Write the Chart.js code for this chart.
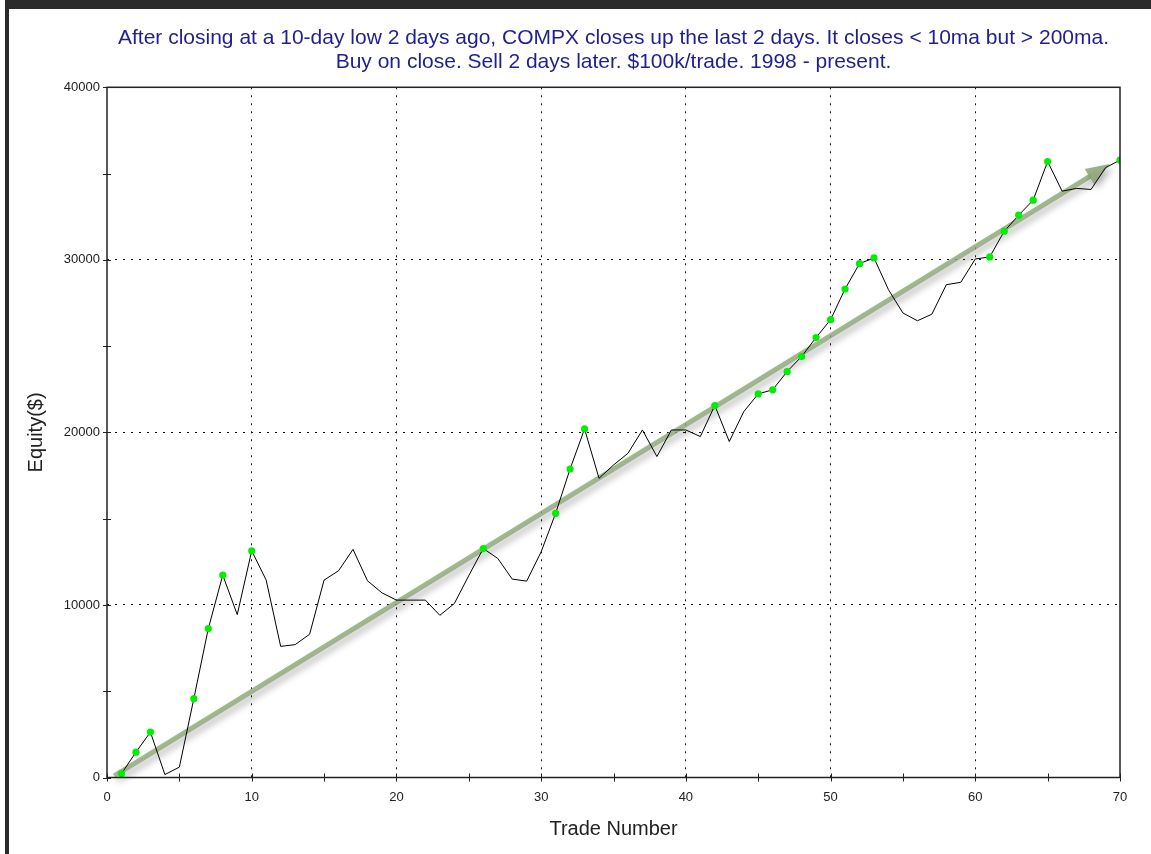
<!DOCTYPE html>
<html>
<head>
<meta charset="utf-8">
<title>COMPX equity curve</title>
<script src="https://cdn.jsdelivr.net/npm/chart.js@4.4.1/dist/chart.umd.min.js"></script>
<style>
    html, body { margin: 0; padding: 0; background: #fff; }
    #wrap { position: relative; width: 1151px; height: 854px; overflow: hidden; }
    #chart { position: absolute; left: 0; top: 0; }
    .bar { position: absolute; background: #2b2b2b; }
</style>
</head>
<body>
<div id="wrap">
    <canvas id="chart" width="1151" height="854"></canvas>
    <div class="bar" style="left:5px; top:0; width:1146px; height:9px;"></div>
    <div class="bar" style="left:5px; top:0; width:4px; height:854px;"></div>
</div>
<script>
// Equity after each trade (trade 1..70)
const equity = [
    220, 1470, 2630, 170, 600, 4570, 8630, 11730, 9440, 13140,
    11440, 7600, 7700, 8300, 11440, 11980, 13220, 11400, 10700, 10280,
    10280, 10280, 9400, 10080, 11700, 13270, 12700, 11500, 11380, 13080,
    15310, 17880, 20200, 17340, 18110, 18790, 20140, 18600, 20140, 20140,
    19760, 21560, 19470, 21200, 22230, 22470, 23530, 24400, 25500, 26530,
    28310, 29780, 30110, 28270, 26920, 26470, 26850, 28560, 28700, 30050,
    30170, 31660, 32590, 33460, 35700, 33980, 34140, 34080, 35340, 35780
];
const trades = equity.map((v, i) => i + 1);

// trades that set a new equity high (green dots)
const highTrades = [1, 2, 3, 6, 7, 8, 10, 26, 31, 32, 33, 42, 45, 46, 47, 48, 49, 50, 51, 52, 53, 61, 62, 63, 64, 65, 70];

// trend arrow, start and tip in data units
const arrowX = [0.5, 69.3];
const arrowY = [100, 35550];

const titleLines = [
    'After closing at a 10-day low 2 days ago, COMPX closes up the last 2 days. It closes < 10ma but > 200ma.',
    'Buy on close. Sell 2 days later. $100k/trade. 1998 - present.'
];

const FONT = '"Liberation Sans", Arial, sans-serif';

const linePoints = trades.map((t, i) => ({ x: t, y: equity[i] }));
const highPoints = highTrades.map(t => ({ x: t, y: equity[t - 1] }));

// frame, crossing tick marks and the trend arrow
const decor = {
    id: 'decor',
    beforeDatasetsDraw(chart) {
        const { ctx, scales: { x, y } } = chart;
        const x0 = x.getPixelForValue(arrowX[0]), y0 = y.getPixelForValue(arrowY[0]);
        const x1 = x.getPixelForValue(arrowX[1]), y1 = y.getPixelForValue(arrowY[1]);
        const ang = Math.atan2(y1 - y0, x1 - x0);
        const headLen = 24, headW = 9;
        const bx = x1 - Math.cos(ang) * headLen, by = y1 - Math.sin(ang) * headLen;

        ctx.save();
        ctx.shadowColor = 'rgba(0,0,0,0.35)';
        ctx.shadowBlur = 7;
        ctx.shadowOffsetX = 3;
        ctx.shadowOffsetY = 4;
        ctx.strokeStyle = 'rgba(140,165,118,0.8)';
        ctx.lineWidth = 5;
        ctx.beginPath();
        ctx.moveTo(x0, y0);
        ctx.lineTo(bx + Math.cos(ang) * 2, by + Math.sin(ang) * 2);
        ctx.stroke();
        ctx.fillStyle = 'rgba(140,165,118,0.85)';
        ctx.beginPath();
        ctx.moveTo(x1, y1);
        ctx.lineTo(bx + Math.sin(ang) * headW, by - Math.cos(ang) * headW);
        ctx.lineTo(bx - Math.sin(ang) * headW, by + Math.cos(ang) * headW);
        ctx.closePath();
        ctx.fill();
        ctx.restore();
    },
    afterDraw(chart) {
        const { ctx, chartArea: a, scales: { x, y } } = chart;
        ctx.save();
        ctx.strokeStyle = '#222';
        ctx.lineWidth = 1.5;
        ctx.strokeRect(a.left, a.top, a.right - a.left, a.bottom - a.top);
        ctx.lineWidth = 1;
        ctx.beginPath();
        x.ticks.forEach(t => {
            const px = Math.round(x.getPixelForValue(t.value)) + 0.5;
            ctx.moveTo(px, a.bottom - 4);
            ctx.lineTo(px, a.bottom + 4);
        });
        y.ticks.forEach(t => {
            const py = Math.round(y.getPixelForValue(t.value)) + 0.5;
            ctx.moveTo(a.left - 4, py);
            ctx.lineTo(a.left + 4, py);
        });
        ctx.stroke();
        ctx.restore();
    }
};

const gridColor = (step, max) => c =>
    (c.tick && c.tick.value % step === 0 && c.tick.value > 0 && c.tick.value < max) ? '#111' : 'rgba(0,0,0,0)';

new Chart(document.getElementById('chart'), {
    type: 'line',
    data: {
        datasets: [
            {
                label: 'Equity',
                data: linePoints,
                borderColor: '#000',
                borderWidth: 1,
                pointRadius: 0,
                tension: 0,
                order: 2
            },
            {
                label: 'New high',
                data: highPoints,
                showLine: false,
                pointRadius: 3.6,
                pointBackgroundColor: '#00ee00',
                pointBorderWidth: 0,
                order: 1
            }
        ]
    },
    options: {
        responsive: false,
        animation: false,
        layout: { padding: { left: 0, right: 31, top: 0, bottom: 0 } },
        plugins: {
            legend: { display: false },
            tooltip: { enabled: false },
            title: {
                display: true,
                fullSize: false,
                text: titleLines,
                color: '#1f1f8f',
                font: { family: FONT, size: 21, weight: 'normal', lineHeight: 1.15 },
                padding: { top: 26, bottom: 13 }
            }
        },
        scales: {
            x: {
                type: 'linear',
                min: 0,
                max: 70,
                ticks: {
                    stepSize: 5,
                    color: '#222',
                    font: { family: FONT, size: 13 },
                    padding: 12,
                    maxRotation: 0,
                    callback: v => (v % 10 === 0 ? String(v) : '')
                },
                grid: { color: gridColor(10, 70), drawTicks: false, lineWidth: 1 },
                border: { display: false, dash: [2, 6] },
                title: {
                    display: true,
                    text: 'Trade Number',
                    color: '#222',
                    font: { family: FONT, size: 20 },
                    padding: { top: 0, bottom: 13 }
                },
                afterFit: s => { s.height = 76.5; }
            },
            y: {
                min: 0,
                max: 40000,
                ticks: {
                    stepSize: 5000,
                    color: '#222',
                    font: { family: FONT, size: 13 },
                    padding: 7,
                    callback: v => (v % 10000 === 0 ? String(v) : '')
                },
                grid: { color: gridColor(10000, 40000), drawTicks: false, lineWidth: 1 },
                border: { display: false, dash: [2, 6] },
                title: {
                    display: true,
                    text: 'Equity($)',
                    color: '#222',
                    font: { family: FONT, size: 20 },
                    padding: { top: 24, bottom: 0 }
                },
                afterFit: s => { s.width = 107; }
            }
        }
    },
    plugins: [decor]
});
</script>
</body>
</html>
